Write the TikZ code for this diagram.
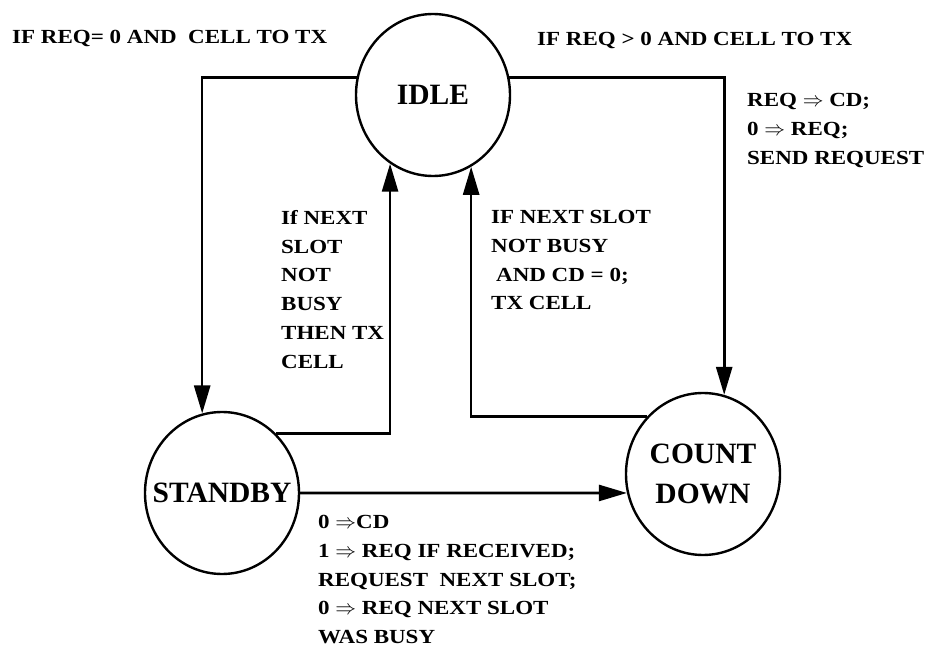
\documentclass[tikz,border=0pt]{standalone}
\usepackage{amsmath}
\usepackage{fontspec}
\setmainfont{Liberation Serif}
\newfontfamily\labelfont{Liberation Serif}[FakeStretch=1.15]
\usepackage{tikz}
\usetikzlibrary{shapes.geometric, arrows.meta}
\tikzset{
	state/.style={ellipse, draw, line width=2.4pt, minimum width=154pt, minimum height=162pt, inner sep=-22pt, align=center, font=\bfseries\fontsize{29.5}{40}\selectfont},
	arrow/.style={line width=2.6pt, -{Triangle[length=28pt, width=16pt]}}
}

\begin{document}
\begin{tikzpicture}[
		x=1pt, y=-1pt,
		lbl/.style={
			anchor=north west,
			inner sep=0pt,
			align=left,
			font=\labelfont\bfseries\fontsize{20}{28.8}\selectfont
		}
		]
		
		\useasboundingbox (0,0) rectangle (930,650);
		
		\node[state] (idle) at (433,95) {IDLE};
		\node[state] (standby) at (222,493) {STANDBY};
		\node[state] (countdown) at (703,474) {COUNT\\DOWN};
		
		\node[lbl] (reqzero) at (12,30) {IF REQ= 0 AND\ \ CELL TO TX};
		\node[lbl] (reqpos) at (537,32) {IF REQ > 0 AND CELL TO TX};
		\node[lbl] (sendreq) at (747,93) {REQ $\Rightarrow$ CD;\\0 $\Rightarrow$ REQ;\\SEND REQUEST};
		\node[lbl] (nextfree) at (281,210) {If NEXT\\SLOT\\NOT\\BUSY\\THEN TX\\CELL};
		\node[lbl] (cdzero) at (491,210) {IF NEXT SLOT\\NOT BUSY\\\hspace*{5pt}AND CD = 0;\\TX CELL};
		\node[lbl] (reset) at (318,515) {0 $\Rightarrow$CD\\1 $\Rightarrow$ REQ IF RECEIVED;\\REQUEST\ \ NEXT SLOT;\\0 $\Rightarrow$ REQ NEXT SLOT\\WAS BUSY};
		
		\draw[arrow] (idle.167) -| (standby.104);
		\draw[arrow] (idle.13) -| (countdown.75);
		\draw[arrow] (standby.48) -| (idle.238);
		\draw[arrow] (countdown.134) -| (idle.298);
		\draw[arrow] (standby.0) -- (countdown.194);
		
	\end{tikzpicture}
\end{document}
